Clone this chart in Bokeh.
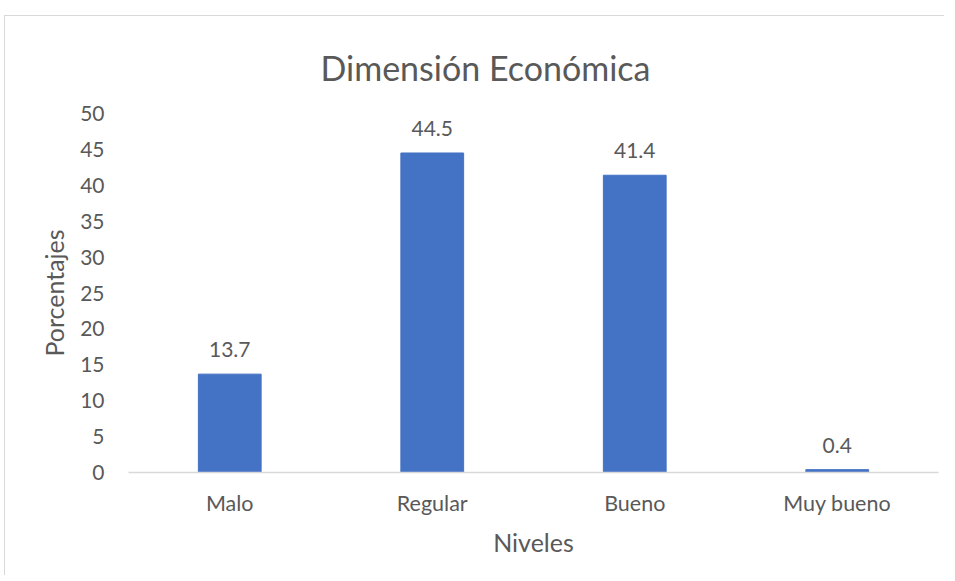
from bokeh.plotting import figure
from bokeh.models import ColumnDataSource, FactorRange, Range1d, LabelSet, FixedTicker
from bokeh.core.properties import value
from bokeh.embed import file_html
from bokeh.resources import INLINE

categories = ["Malo", "Regular", "Bueno", "Muy bueno"]
values = [13.7, 44.5, 41.4, 0.4]
labels = ["13.7", "44.5", "41.4", "0.4"]
y_ticks = [0, 5, 10, 15, 20, 25, 30, 35, 40, 45, 50]
title_text = "Dimensión Económica"

TEXT = "#595959"
FONT = "Lato"

src = ColumnDataSource(dict(cat=categories, val=values, lab=labels))

p = figure(x_range=FactorRange(*categories, range_padding=0), y_range=Range1d(0, 50),
           width=940, height=560, output_backend="svg", toolbar_location=None,
           min_border_left=123, min_border_right=7, min_border_top=97, min_border_bottom=104,
           title=title_text)
p.vbar(x="cat", top="val", width=0.31, source=src, color="#4472C4")

p.add_layout(LabelSet(x="cat", y="val", text="lab", source=src, text_align="center",
                      text_baseline="alphabetic", y_offset=17, text_font=value(FONT),
                      text_font_size="21px", text_color=TEXT))

p.title.align = "left"
p.title.vertical_align = "top"
p.title.text_font = FONT
p.title.text_font_style = "normal"
p.title.text_font_size = "34px"
p.title.text_color = TEXT
p.title.standoff = 48
p.title.offset = 192

p.xgrid.visible = False
p.ygrid.visible = False
p.outline_line_color = None

xa = p.xaxis[0]
xa.axis_line_color = "#D9D9D9"
xa.axis_line_width = 1.5
xa.major_tick_line_color = None
xa.minor_tick_line_color = None
xa.major_label_text_font = FONT
xa.major_label_text_font_size = "21.5px"
xa.major_label_text_color = TEXT
xa.major_label_standoff = 11
xa.axis_label = "Niveles"
xa.axis_label_text_font = FONT
xa.axis_label_text_font_style = "normal"
xa.axis_label_text_font_size = "25px"
xa.axis_label_text_color = TEXT
xa.axis_label_standoff = 8

ya = p.yaxis[0]
ya.ticker = FixedTicker(ticks=y_ticks)
ya.axis_line_color = None
ya.major_tick_line_color = None
ya.minor_tick_line_color = None
ya.major_label_text_font = FONT
ya.major_label_text_font_size = "21px"
ya.major_label_text_color = TEXT
ya.major_label_standoff = 18
ya.axis_label = "Porcentajes"
ya.axis_label_text_font = FONT
ya.axis_label_text_font_style = "normal"
ya.axis_label_text_font_size = "25px"
ya.axis_label_text_color = TEXT
ya.axis_label_standoff = 8

p.styles = {"margin-left": "4px", "margin-top": "15px",
            "border-top": "1px solid #D9D9D9", "border-left": "1px solid #D9D9D9"}

open("out.html", "w").write(file_html(p, INLINE))
